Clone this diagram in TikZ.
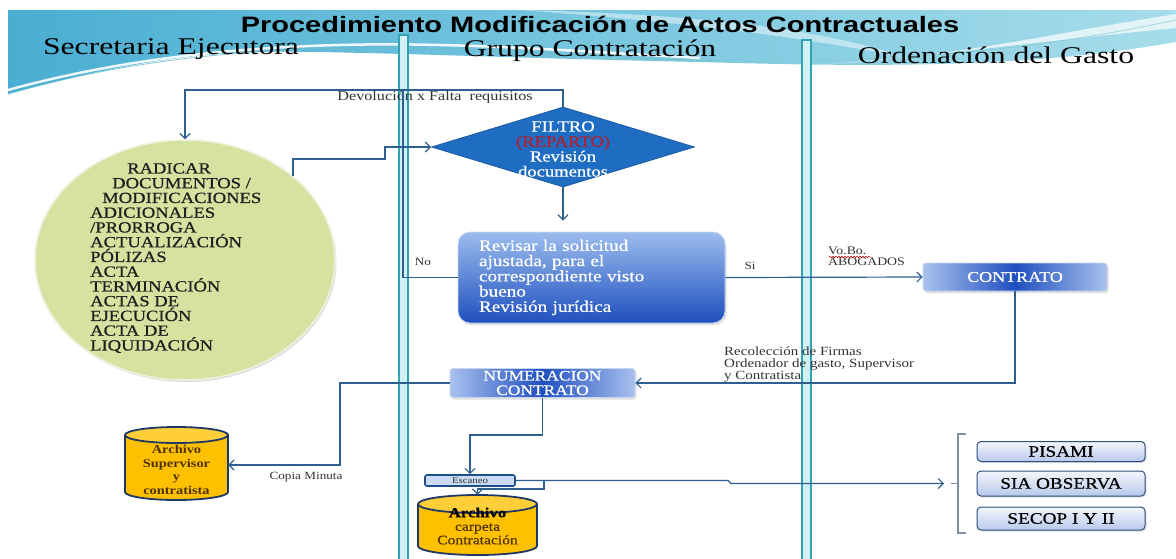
\documentclass[tikz,border=0pt]{standalone}
\usepackage{fontspec}
\usepackage{graphicx}
\setmainfont{Liberation Serif}[FakeStretch=1.2]
\newfontfamily\titlef{Liberation Sans}[FakeStretch=1.3]
\newfontfamily\lanef{Liberation Serif}[FakeStretch=1.32]
\newfontfamily\semib{Liberation Serif}[FakeStretch=1.2,FakeBold=0.6]
\usetikzlibrary{arrows.meta,shapes.geometric,shadows,decorations.pathmorphing}
\definecolor{connc}{HTML}{2F5F8F}
\definecolor{lblc}{HTML}{333333}
\definecolor{hdA}{HTML}{4AAED2}
\definecolor{hdB}{HTML}{A6DDEB}
\definecolor{laneD}{HTML}{2FA3B3}
\definecolor{laneF}{HTML}{D2F1F5}
\definecolor{ellF}{HTML}{D5E2A0}
\definecolor{ellD}{HTML}{EEF2DC}
\definecolor{dmF}{HTML}{1F6DC2}
\definecolor{dmD}{HTML}{1A5A9E}
\definecolor{repc}{HTML}{B0202E}
\definecolor{bbL}{HTML}{A9C1EE}
\definecolor{bbM}{HTML}{1F4FC0}
\definecolor{bbE}{HTML}{C8D6F2}
\definecolor{rvT}{HTML}{9CBCEE}
\definecolor{rvB}{HTML}{1E50BE}
\definecolor{cylF}{HTML}{FFC000}
\definecolor{cylT}{HTML}{FFCF3A}
\definecolor{cylD}{HTML}{1F3864}
\definecolor{cylTx}{HTML}{4D3300}
\definecolor{sysT}{HTML}{F3F6FC}
\definecolor{sysB}{HTML}{B9C9EC}
\definecolor{sysD}{HTML}{2D4E7E}
\definecolor{escF}{HTML}{C9DBF5}
\definecolor{escD}{HTML}{1F4E8C}
\definecolor{brk}{HTML}{7F8FA6}
\newcommand{\fsz}[2]{\fontsize{#1}{#2}\selectfont}
\tikzset{
  cline/.style={draw=connc, line width=1.2pt},
  arr/.style={-{Straight Barb[length=5pt,width=10pt]}},
  lbl/.style={font=\fsz{11.5}{12}, text=lblc, inner sep=0pt},
  lanebar/.style={draw=laneD, fill=laneF, line width=1.4pt},
  bluebox/.style={rounded corners=3pt, left color=bbL, right color=bbL, middle color=bbM,
     draw=bbE, line width=0.6pt, text=white, inner sep=0pt,
     drop shadow={opacity=0.25, shadow xshift=1.5pt, shadow yshift=-2pt}},
  sysbox/.style={rounded corners=4pt, top color=sysT, bottom color=sysB, draw=sysD,
     line width=1pt, minimum width=168pt, inner sep=0pt, font=\semib\fsz{16}{18}, text=black,
     drop shadow={opacity=0.25, shadow xshift=1.5pt, shadow yshift=-1.5pt}},
  cyltext/.style={font=\bfseries\fsz{12}{13.5}, text=cylTx, align=center, inner sep=0pt},
}
\begin{document}
\begin{tikzpicture}[x=1pt,y=1pt]
\useasboundingbox (0,0) rectangle (1176,-558);
\fill[white] (0,0) rectangle (1176,-558);
% ---------- header band ----------
\shade[left color=hdA, right color=hdB]
  (8,-10) -- (1176,-10) -- (1176,-42)
  .. controls (1040,-66) and (900,-68) .. (700,-62)
  .. controls (500,-58) and (330,-50) .. (250,-52)
  .. controls (150,-56) and (60,-80) .. (8,-94) -- cycle;
\fill[white,opacity=0.45] (520,-10) .. controls (700,-14) and (830,-30) .. (905,-58)
  .. controls (800,-36) and (680,-22) .. (520,-10) -- cycle;
\fill[white,opacity=0.7] (1176,-14) .. controls (1060,-32) and (960,-56) .. (830,-64)
  .. controls (970,-52) and (1070,-38) .. (1176,-28) -- cycle;
\draw[white,line width=2.5pt,opacity=0.9] (8,-90) .. controls (110,-62) and (220,-48) .. (340,-45)
  .. controls (450,-42) and (560,-50) .. (700,-58);
\draw[laneD!70,line width=0.8pt,opacity=0.8] (8,-94) .. controls (120,-62) and (230,-50) .. (350,-48)
  .. controls (460,-46) and (560,-56) .. (720,-61);
\draw[laneD!60,line width=0.8pt,opacity=0.7] (600,-58) .. controls (800,-66) and (980,-62) .. (1176,-20);
% ---------- titles ----------
\node[anchor=base, inner sep=0pt, font=\titlef\bfseries\fsz{22.3}{24}] (title) at (600,-32)
  {Procedimiento Modificación de Actos Contractuales};
\node[anchor=base, inner sep=0pt, font=\lanef\fsz{24}{26}] (lane1) at (171,-54) {Secretaria Ejecutora};
\node[anchor=base, inner sep=0pt, font=\lanef\fsz{24}{26}] (lane2) at (590,-56) {Grupo Contratación};
\node[anchor=base, inner sep=0pt, font=\lanef\fsz{24}{26}] (lane3) at (996,-63) {Ordenación del Gasto};
% ---------- lane dividers ----------
\draw[lanebar] (399,-35) rectangle (408,-560);
\draw[lanebar] (802,-40) rectangle (811,-560);
% ---------- nodes ----------
\node[ellipse, minimum width=300pt, minimum height=240pt, inner sep=0pt, fill=ellF, draw=ellD,
  line width=1.5pt, drop shadow={opacity=0.25, shadow xshift=1.5pt, shadow yshift=-2pt}] (ell) at (185,-260) {};
\node[anchor=north west, align=left, inner sep=0pt, font=\semib\fsz{15.5}{14.75}, text=black!88] (elltxt) at (90,-163)
  {\hspace*{37pt}RADICAR\\ \hspace*{22pt}DOCUMENTOS /\\ \hspace*{12pt}MODIFICACIONES\\ ADICIONALES\\ /PRORROGA\\
   ACTUALIZACIÓN\\ PÓLIZAS\\ ACTA\\ TERMINACIÓN\\ ACTAS DE\\ EJECUCIÓN\\ ACTA DE\\ LIQUIDACIÓN};
\node[diamond, minimum width=263pt, minimum height=80pt, inner sep=0pt, fill=dmF, draw=dmD, line width=0.8pt] (filtro) at (563,-147) {};
\node[align=center, inner sep=0pt, font=\semib\fsz{15.5}{15}, text=white] (filtrotxt) at (563,-149)
  {FILTRO\\ \textcolor{repc}{(REPARTO)}\\ Revisión\\ documentos};
\node[rounded corners=12pt, top color=rvT, bottom color=rvB, draw=bbE, line width=0.8pt,
  minimum width=267pt, minimum height=91pt, text width=225pt, inner xsep=21pt, inner ysep=0pt, align=left,
  font=\semib\fsz{16}{15.25}, text=white,
  drop shadow={opacity=0.25, shadow xshift=1.5pt, shadow yshift=-2pt}] (rev) at (591.5,-277.5)
  {Revisar la solicitud\\ ajustada, para el\\ correspondiente visto\\ bueno\\ Revisión jurídica};
\node[bluebox, minimum width=184pt, minimum height=28pt, font=\semib\fsz{15}{15}] (contrato) at (1015,-277) {CONTRATO};
\node[bluebox, minimum width=185pt, minimum height=29pt, align=center, font=\semib\fsz{14.5}{14.5}] (numer) at (542.5,-383)
  {NUMERACION\\ CONTRATO};
\node[rounded corners=2pt, fill=escF, draw=escD, line width=1.6pt, minimum width=90pt, minimum height=11pt,
  inner sep=0pt, font=\fsz{9}{9}, text=lblc] (esc) at (470,-480.5) {Escaneo};
% cylinders
\fill[cylF] (125,-435) -- (125,-492) arc[start angle=180,end angle=360,x radius=51.5,y radius=8]
  -- (228,-435) -- cycle;
\draw[cylD,line width=1.8pt] (125,-435) -- (125,-492) arc[start angle=180,end angle=360,x radius=51.5,y radius=8]
  -- (228,-435);
\draw[cylD,line width=1.8pt,fill=cylT] (176.5,-435) ellipse[x radius=51.5,y radius=8];
\node[minimum width=103pt, minimum height=73pt, inner sep=0pt] (arch1) at (176.5,-465) {};
\node[cyltext] (arch1t) at (176.5,-470) {Archivo\\ Supervisor\\ y\\ contratista};
\fill[cylF] (418,-504) -- (418,-546) arc[start angle=180,end angle=360,x radius=59.5,y radius=9]
  -- (537,-504) -- cycle;
\draw[cylD,line width=1.8pt] (418,-504) -- (418,-546) arc[start angle=180,end angle=360,x radius=59.5,y radius=9]
  -- (537,-504);
\draw[cylD,line width=1.8pt,fill=cylT] (477.5,-504) ellipse[x radius=59.5,y radius=9];
\node[minimum width=119pt, minimum height=60pt, inner sep=0pt] (arch2) at (477.5,-525) {};
\node[cyltext, font=\semib\fsz{13}{13.5}] (arch2t) at (477.5,-526)
  {\textcolor{black}{\bfseries\fsz{14}{13.5}Archivo}\\ carpeta\\ Contratación};
% system boxes
\node[sysbox, minimum height=20pt] (pisami) at (1061,-451.5) {PISAMI};
\node[sysbox, minimum height=25pt] (sia) at (1061,-483.5) {SIA OBSERVA};
\node[sysbox, minimum height=23pt] (secop) at (1061,-518.5) {SECOP I Y II};
% bracket
\coordinate (bt) at (966,-434);
\coordinate (bb) at (966,-533);
\coordinate (bm) at (944,-483.5);
\draw[brk,line width=1.3pt] (bt) -- (958,-434) -- (958,-533) -- (bb);
\draw[brk,line width=1.3pt] (951,-483.5) -- (958,-483.5);
% ---------- connectors ----------
\coordinate (dv) at (185,-90);
\coordinate (dv2) at (403,-90);
\draw[cline,arr] (filtro.north) |- (dv) -- (ell.north);
\node[lbl, font=\fsz{13.5}{13}] (devlbl) at (435,-97) {Devolución x Falta\ \ requisitos};
\coordinate (e1) at (385,-159);
\draw[cline,arr] (ell.38) |- (e1) |- (filtro.west);
\draw[cline,arr,shorten >=11pt] (filtro.south) -- (filtro.south |- rev.north);
\draw[cline] (rev.west) -| (dv2);
\node[lbl, font=\fsz{11}{12}] (nolbl) at (423,-262) {No};
\draw[cline,arr] (rev.east) -- (contrato.west);
\node[lbl, font=\fsz{11}{12}] (silbl) at (750,-266) {Si};
\node[lbl, anchor=west] (vobo) at (828,-251) {Vo.Bo.};
\node[lbl, anchor=west] (abog) at (828,-262) {ABOGADOS};
\draw[red!80!black, line width=0.5pt, decorate, decoration={snake, amplitude=0.7pt, segment length=3pt}]
  (829,-257) -- (871,-257);
\draw[cline,arr] (contrato.south) |- (numer.east);
\node[lbl, anchor=north west, align=left, font=\fsz{12.5}{12}] (recol) at (724,-347)
  {Recolección de Firmas\\ Ordenador de gasto, Supervisor\\ y Contratista};
\coordinate (k1) at (340,-424);
\draw[cline,arr] (numer.west) -| (k1) |- (arch1.east);
\node[lbl, font=\fsz{11}{12}] (copia) at (306,-477) {Copia Minuta};
\coordinate (k2) at (470,-435);
\draw[cline,arr] (numer.south) |- (k2) -- (esc.north);
\coordinate (k4) at (728,-480.5);
\coordinate (k5) at (731,-483.5);
\draw[cline,arr] (esc.east) -- (k4) -- (k5) -- (bm);
\coordinate (j1) at (544,-480.5);
\coordinate (k3) at (477.5,-489);
\draw[cline,arr] (j1) |- (k3) -- (arch2.north);
\end{tikzpicture}
\end{document}
